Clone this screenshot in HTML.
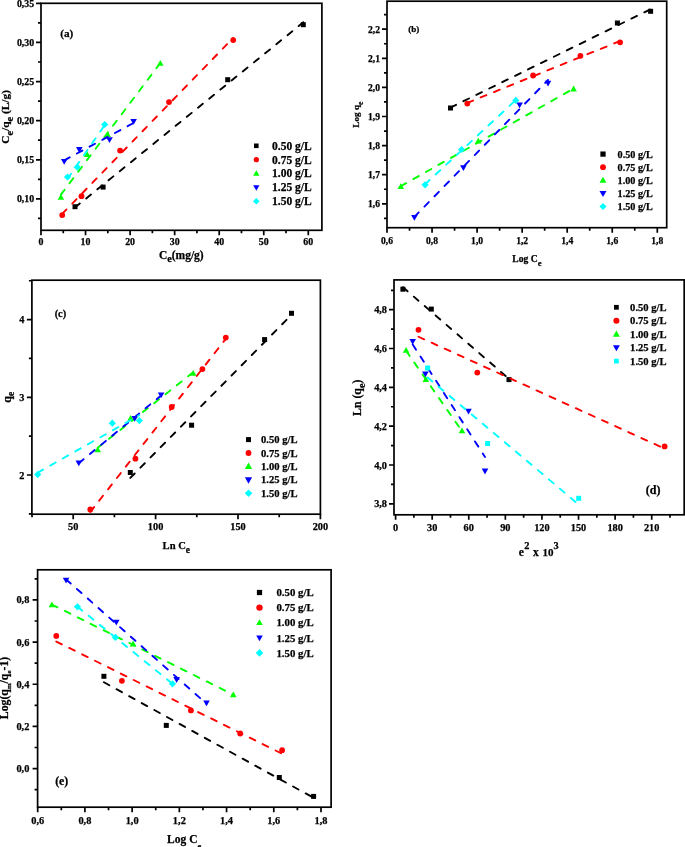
<!DOCTYPE html>
<html><head><meta charset="utf-8"><title>Isotherm plots</title>
<style>
html,body{margin:0;padding:0;background:#fff;}
svg{display:block;will-change:transform;}
text{font-family:"Liberation Serif",serif;font-weight:bold;fill:#000;stroke:#000;stroke-width:0.25px;}
</style></head>
<body>
<svg width="685" height="847" viewBox="0 0 685 847">
<rect width="685" height="847" fill="#fff"/>
<rect x="41.00" y="3.30" width="280.90" height="227.00" fill="none" stroke="#000" stroke-width="1.70"/>
<path d="M41.00 230.30V235.30M85.55 230.30V235.30M130.10 230.30V235.30M174.65 230.30V235.30M219.20 230.30V235.30M263.75 230.30V235.30M308.30 230.30V235.30M63.27 230.30V233.30M107.83 230.30V233.30M152.38 230.30V233.30M196.93 230.30V233.30M241.47 230.30V233.30M286.02 230.30V233.30M41.00 198.90H36.00M41.00 159.78H36.00M41.00 120.66H36.00M41.00 81.54H36.00M41.00 42.42H36.00M41.00 3.30H36.00M41.00 218.46H38.00M41.00 179.34H38.00M41.00 140.22H38.00M41.00 101.10H38.00M41.00 61.98H38.00M41.00 22.86H38.00" stroke="#000" stroke-width="1.70" fill="none"/>
<text x="41.00" y="245.00" font-size="9.90" text-anchor="middle">0</text>
<text x="85.55" y="245.00" font-size="9.90" text-anchor="middle">10</text>
<text x="130.10" y="245.00" font-size="9.90" text-anchor="middle">20</text>
<text x="174.65" y="245.00" font-size="9.90" text-anchor="middle">30</text>
<text x="219.20" y="245.00" font-size="9.90" text-anchor="middle">40</text>
<text x="263.75" y="245.00" font-size="9.90" text-anchor="middle">50</text>
<text x="308.30" y="245.00" font-size="9.90" text-anchor="middle">60</text>
<text x="34.20" y="202.32" font-size="9.90" text-anchor="end">0,10</text>
<text x="34.20" y="163.20" font-size="9.90" text-anchor="end">0,15</text>
<text x="34.20" y="124.08" font-size="9.90" text-anchor="end">0,20</text>
<text x="34.20" y="84.96" font-size="9.90" text-anchor="end">0,25</text>
<text x="34.20" y="45.84" font-size="9.90" text-anchor="end">0,30</text>
<text x="34.20" y="6.72" font-size="9.90" text-anchor="end">0,35</text>
<line x1="75.00" y1="207.49" x2="303.30" y2="22.35" stroke="#000000" stroke-width="1.90" stroke-dasharray="6.2 8.2" stroke-linecap="round"/>
<rect x="72.50" y="204.20" width="5.00" height="5.00" fill="#000000"/>
<rect x="100.60" y="184.60" width="5.00" height="5.00" fill="#000000"/>
<rect x="225.20" y="77.20" width="5.00" height="5.00" fill="#000000"/>
<rect x="300.80" y="22.20" width="5.00" height="5.00" fill="#000000"/>
<line x1="62.20" y1="213.88" x2="233.20" y2="37.92" stroke="#ff0000" stroke-width="1.90" stroke-dasharray="6.2 8.2" stroke-linecap="round"/>
<circle cx="62.20" cy="215.10" r="2.90" fill="#ff0000"/>
<circle cx="81.50" cy="196.20" r="2.90" fill="#ff0000"/>
<circle cx="120.10" cy="150.60" r="2.90" fill="#ff0000"/>
<circle cx="169.00" cy="102.10" r="2.90" fill="#ff0000"/>
<circle cx="233.20" cy="40.10" r="2.90" fill="#ff0000"/>
<line x1="60.90" y1="194.66" x2="160.30" y2="63.06" stroke="#00ff00" stroke-width="1.90" stroke-dasharray="6.2 8.2" stroke-linecap="round"/>
<path d="M60.90 193.92L64.20 199.72L57.60 199.72Z" fill="#00ff00"/>
<path d="M87.20 151.22L90.50 157.02L83.90 157.02Z" fill="#00ff00"/>
<path d="M107.60 131.32L110.90 137.12L104.30 137.12Z" fill="#00ff00"/>
<path d="M160.30 60.02L163.60 65.82L157.00 65.82Z" fill="#00ff00"/>
<line x1="64.20" y1="160.30" x2="133.60" y2="122.98" stroke="#0000ff" stroke-width="1.90" stroke-dasharray="6.2 8.2" stroke-linecap="round"/>
<path d="M64.20 164.68L67.50 158.88L60.90 158.88Z" fill="#0000ff"/>
<path d="M79.30 152.88L82.60 147.08L76.00 147.08Z" fill="#0000ff"/>
<path d="M109.50 143.08L112.80 137.28L106.20 137.28Z" fill="#0000ff"/>
<path d="M133.60 124.68L136.90 118.88L130.30 118.88Z" fill="#0000ff"/>
<line x1="67.50" y1="178.84" x2="104.70" y2="125.16" stroke="#00ffff" stroke-width="1.90" stroke-dasharray="6.2 8.2" stroke-linecap="round"/>
<path d="M67.50 173.40L71.10 177.00L67.50 180.60L63.90 177.00Z" fill="#00ffff"/>
<path d="M77.30 163.60L80.90 167.20L77.30 170.80L73.70 167.20Z" fill="#00ffff"/>
<path d="M104.70 120.90L108.30 124.50L104.70 128.10L101.10 124.50Z" fill="#00ffff"/>
<rect x="254.00" y="143.50" width="4.60" height="4.60" fill="#000000"/>
<text x="272.00" y="149.77" font-size="11.50" text-anchor="start">0.50 g/L</text>
<circle cx="256.30" cy="159.65" r="2.67" fill="#ff0000"/>
<text x="272.00" y="163.62" font-size="11.50" text-anchor="start">0.75 g/L</text>
<path d="M256.30 170.19L259.44 175.70L253.17 175.70Z" fill="#00ff00"/>
<text x="272.00" y="177.47" font-size="11.50" text-anchor="start">1.00 g/L</text>
<path d="M256.30 190.66L259.44 185.15L253.17 185.15Z" fill="#0000ff"/>
<text x="272.00" y="191.32" font-size="11.50" text-anchor="start">1.25 g/L</text>
<path d="M256.30 197.89L259.61 201.20L256.30 204.51L252.99 201.20Z" fill="#00ffff"/>
<text x="272.00" y="205.17" font-size="11.50" text-anchor="start">1.50 g/L</text>
<text x="66.70" y="36.50" font-size="11.20" text-anchor="middle">(a)</text>
<text x="158.90" y="258.50" font-size="11.50" text-anchor="start">C<tspan font-size="10.2" dy="3.5">e</tspan><tspan dy="-3.5">(mg/g)</tspan></text>
<text transform="translate(8.9 116.9) rotate(-90)" font-size="11.4" text-anchor="middle">C<tspan font-size="10.4" dy="3.7">e</tspan><tspan dy="-3.7">/q</tspan><tspan font-size="10.4" dy="3.7">e</tspan><tspan dy="-3.7"> (L/g)</tspan></text>
<rect x="387.00" y="1.20" width="279.70" height="226.50" fill="none" stroke="#000" stroke-width="1.70"/>
<path d="M387.00 227.70V232.70M432.05 227.70V232.70M477.10 227.70V232.70M522.15 227.70V232.70M567.20 227.70V232.70M612.25 227.70V232.70M657.30 227.70V232.70M409.52 227.70V230.70M454.57 227.70V230.70M499.62 227.70V230.70M544.67 227.70V230.70M589.72 227.70V230.70M634.77 227.70V230.70M387.00 203.80H382.00M387.00 174.70H382.00M387.00 145.60H382.00M387.00 116.50H382.00M387.00 87.40H382.00M387.00 58.30H382.00M387.00 29.20H382.00M387.00 218.35H384.00M387.00 189.25H384.00M387.00 160.15H384.00M387.00 131.05H384.00M387.00 101.95H384.00M387.00 72.85H384.00M387.00 43.75H384.00M387.00 14.65H384.00" stroke="#000" stroke-width="1.70" fill="none"/>
<text x="387.00" y="243.80" font-size="9.60" text-anchor="middle">0,6</text>
<text x="432.05" y="243.80" font-size="9.60" text-anchor="middle">0,8</text>
<text x="477.10" y="243.80" font-size="9.60" text-anchor="middle">1,0</text>
<text x="522.15" y="243.80" font-size="9.60" text-anchor="middle">1,2</text>
<text x="567.20" y="243.80" font-size="9.60" text-anchor="middle">1,4</text>
<text x="612.25" y="243.80" font-size="9.60" text-anchor="middle">1,6</text>
<text x="657.30" y="243.80" font-size="9.60" text-anchor="middle">1,8</text>
<text x="380.00" y="207.11" font-size="9.60" text-anchor="end">1,6</text>
<text x="380.00" y="178.01" font-size="9.60" text-anchor="end">1,7</text>
<text x="380.00" y="148.91" font-size="9.60" text-anchor="end">1,8</text>
<text x="380.00" y="119.81" font-size="9.60" text-anchor="end">1,9</text>
<text x="380.00" y="90.71" font-size="9.60" text-anchor="end">2,0</text>
<text x="380.00" y="61.61" font-size="9.60" text-anchor="end">2,1</text>
<text x="380.00" y="32.51" font-size="9.60" text-anchor="end">2,2</text>
<line x1="450.50" y1="107.58" x2="650.60" y2="9.20" stroke="#000000" stroke-width="1.90" stroke-dasharray="6.2 8.2" stroke-linecap="round"/>
<rect x="448.00" y="105.50" width="5.00" height="5.00" fill="#000000"/>
<rect x="614.90" y="20.50" width="5.00" height="5.00" fill="#000000"/>
<rect x="648.10" y="8.80" width="5.00" height="5.00" fill="#000000"/>
<line x1="467.30" y1="102.85" x2="620.10" y2="41.03" stroke="#ff0000" stroke-width="1.90" stroke-dasharray="6.2 8.2" stroke-linecap="round"/>
<circle cx="467.30" cy="103.60" r="2.90" fill="#ff0000"/>
<circle cx="533.10" cy="75.50" r="2.90" fill="#ff0000"/>
<circle cx="580.40" cy="55.80" r="2.90" fill="#ff0000"/>
<circle cx="620.10" cy="42.30" r="2.90" fill="#ff0000"/>
<line x1="400.80" y1="186.18" x2="573.60" y2="88.60" stroke="#00ff00" stroke-width="1.90" stroke-dasharray="6.2 8.2" stroke-linecap="round"/>
<path d="M400.80 183.32L404.10 189.12L397.50 189.12Z" fill="#00ff00"/>
<path d="M478.30 137.82L481.60 143.62L475.00 143.62Z" fill="#00ff00"/>
<path d="M573.60 85.62L576.90 91.42L570.30 91.42Z" fill="#00ff00"/>
<line x1="414.40" y1="216.86" x2="548.00" y2="80.03" stroke="#0000ff" stroke-width="1.90" stroke-dasharray="6.2 8.2" stroke-linecap="round"/>
<path d="M414.40 220.68L417.70 214.88L411.10 214.88Z" fill="#0000ff"/>
<path d="M463.40 171.08L466.70 165.28L460.10 165.28Z" fill="#0000ff"/>
<path d="M519.60 108.28L522.90 102.48L516.30 102.48Z" fill="#0000ff"/>
<path d="M548.00 86.58L551.30 80.78L544.70 80.78Z" fill="#0000ff"/>
<line x1="425.10" y1="184.27" x2="515.80" y2="100.05" stroke="#00ffff" stroke-width="1.90" stroke-dasharray="6.2 8.2" stroke-linecap="round"/>
<path d="M425.10 181.20L428.70 184.80L425.10 188.40L421.50 184.80Z" fill="#00ffff"/>
<path d="M461.60 145.90L465.20 149.50L461.60 153.10L458.00 149.50Z" fill="#00ffff"/>
<path d="M515.80 96.80L519.40 100.40L515.80 104.00L512.20 100.40Z" fill="#00ffff"/>
<rect x="600.38" y="151.47" width="5.25" height="5.25" fill="#000000"/>
<text x="617.60" y="157.62" font-size="10.20" text-anchor="start">0.50 g/L</text>
<circle cx="603.00" cy="167.20" r="2.90" fill="#ff0000"/>
<text x="617.60" y="170.72" font-size="10.20" text-anchor="start">0.75 g/L</text>
<path d="M603.00 176.65L606.47 182.74L599.53 182.74Z" fill="#00ff00"/>
<text x="617.60" y="183.82" font-size="10.20" text-anchor="start">1.00 g/L</text>
<path d="M603.00 197.05L606.47 190.96L599.53 190.96Z" fill="#0000ff"/>
<text x="617.60" y="196.92" font-size="10.20" text-anchor="start">1.25 g/L</text>
<path d="M603.00 202.90L606.60 206.50L603.00 210.10L599.40 206.50Z" fill="#00ffff"/>
<text x="617.60" y="210.02" font-size="10.20" text-anchor="start">1.50 g/L</text>
<text x="413.70" y="32.40" font-size="9.00" text-anchor="middle">(b)</text>
<text x="526.90" y="262.20" font-size="9.60" text-anchor="middle">Log C<tspan font-size="8.6" dy="3.4">e</tspan></text>
<text transform="translate(359.4 114.6) rotate(-90)" font-size="9.2" text-anchor="middle">Log q<tspan font-size="7.6" dy="3.2">e</tspan></text>
<rect x="31.90" y="280.20" width="288.50" height="234.00" fill="none" stroke="#000" stroke-width="1.70"/>
<path d="M73.20 514.20V519.20M155.60 514.20V519.20M238.00 514.20V519.20M320.40 514.20V519.20M32.00 514.20V517.20M114.40 514.20V517.20M196.80 514.20V517.20M279.20 514.20V517.20M31.90 475.00H26.90M31.90 397.30H26.90M31.90 319.60H26.90M31.90 513.85H28.90M31.90 436.15H28.90M31.90 358.45H28.90M31.90 280.75H28.90" stroke="#000" stroke-width="1.70" fill="none"/>
<text x="73.20" y="530.00" font-size="10.30" text-anchor="middle">50</text>
<text x="155.60" y="530.00" font-size="10.30" text-anchor="middle">100</text>
<text x="238.00" y="530.00" font-size="10.30" text-anchor="middle">150</text>
<text x="320.40" y="530.00" font-size="10.30" text-anchor="middle">200</text>
<text x="24.40" y="478.55" font-size="10.30" text-anchor="end">2</text>
<text x="24.40" y="400.85" font-size="10.30" text-anchor="end">3</text>
<text x="24.40" y="323.15" font-size="10.30" text-anchor="end">4</text>
<line x1="130.30" y1="477.88" x2="291.50" y2="314.82" stroke="#000000" stroke-width="1.90" stroke-dasharray="6.2 8.2" stroke-linecap="round"/>
<rect x="127.80" y="470.00" width="5.00" height="5.00" fill="#000000"/>
<rect x="189.10" y="422.70" width="5.00" height="5.00" fill="#000000"/>
<rect x="262.10" y="337.10" width="5.00" height="5.00" fill="#000000"/>
<rect x="289.00" y="310.80" width="5.00" height="5.00" fill="#000000"/>
<line x1="90.30" y1="511.99" x2="225.80" y2="338.80" stroke="#ff0000" stroke-width="1.90" stroke-dasharray="6.2 8.2" stroke-linecap="round"/>
<circle cx="90.30" cy="509.40" r="2.90" fill="#ff0000"/>
<circle cx="135.40" cy="458.70" r="2.90" fill="#ff0000"/>
<circle cx="171.70" cy="407.00" r="2.90" fill="#ff0000"/>
<circle cx="202.40" cy="369.10" r="2.90" fill="#ff0000"/>
<circle cx="225.80" cy="337.60" r="2.90" fill="#ff0000"/>
<line x1="97.70" y1="447.78" x2="193.20" y2="372.33" stroke="#00ff00" stroke-width="1.90" stroke-dasharray="6.2 8.2" stroke-linecap="round"/>
<path d="M97.70 446.52L101.00 452.32L94.40 452.32Z" fill="#00ff00"/>
<path d="M130.60 414.92L133.90 420.72L127.30 420.72Z" fill="#00ff00"/>
<path d="M193.20 370.02L196.50 375.82L189.90 375.82Z" fill="#00ff00"/>
<line x1="78.80" y1="463.15" x2="161.10" y2="395.53" stroke="#0000ff" stroke-width="1.90" stroke-dasharray="6.2 8.2" stroke-linecap="round"/>
<path d="M78.80 466.28L82.10 460.48L75.50 460.48Z" fill="#0000ff"/>
<path d="M134.70 421.78L138.00 415.98L131.40 415.98Z" fill="#0000ff"/>
<path d="M161.10 398.28L164.40 392.48L157.80 392.48Z" fill="#0000ff"/>
<line x1="37.70" y1="472.65" x2="139.40" y2="415.23" stroke="#00ffff" stroke-width="1.90" stroke-dasharray="6.2 8.2" stroke-linecap="round"/>
<path d="M37.70 471.00L41.30 474.60L37.70 478.20L34.10 474.60Z" fill="#00ffff"/>
<path d="M112.30 419.60L115.90 423.20L112.30 426.80L108.70 423.20Z" fill="#00ffff"/>
<path d="M139.40 417.00L143.00 420.60L139.40 424.20L135.80 420.60Z" fill="#00ffff"/>
<rect x="246.00" y="437.10" width="5.00" height="5.00" fill="#000000"/>
<text x="261.00" y="443.26" font-size="10.60" text-anchor="start">0.50 g/L</text>
<circle cx="248.50" cy="453.00" r="2.90" fill="#ff0000"/>
<text x="261.00" y="456.66" font-size="10.60" text-anchor="start">0.75 g/L</text>
<path d="M248.50 462.57L252.13 468.95L244.87 468.95Z" fill="#00ff00"/>
<text x="261.00" y="470.06" font-size="10.60" text-anchor="start">1.00 g/L</text>
<path d="M248.50 483.63L252.13 477.25L244.87 477.25Z" fill="#0000ff"/>
<text x="261.00" y="483.46" font-size="10.60" text-anchor="start">1.25 g/L</text>
<path d="M248.50 489.42L252.28 493.20L248.50 496.98L244.72 493.20Z" fill="#00ffff"/>
<text x="261.00" y="496.86" font-size="10.60" text-anchor="start">1.50 g/L</text>
<text x="60.40" y="316.90" font-size="10.40" text-anchor="middle">(c)</text>
<text x="176.30" y="549.20" font-size="10.60" text-anchor="middle">Ln C<tspan font-size="9.4" dy="3.6">e</tspan></text>
<text transform="translate(10.6 397.2) rotate(-90)" font-size="12" text-anchor="middle">q<tspan font-size="9.5" dy="3.6">e</tspan></text>
<rect x="394.00" y="279.90" width="290.20" height="234.90" fill="none" stroke="#000" stroke-width="1.70"/>
<path d="M395.60 514.80V519.80M432.19 514.80V519.80M468.77 514.80V519.80M505.36 514.80V519.80M541.94 514.80V519.80M578.53 514.80V519.80M615.11 514.80V519.80M651.70 514.80V519.80M413.89 514.80V517.80M450.48 514.80V517.80M487.06 514.80V517.80M523.65 514.80V517.80M560.24 514.80V517.80M596.82 514.80V517.80M633.41 514.80V517.80M669.99 514.80V517.80M394.00 503.80H389.00M394.00 464.98H389.00M394.00 426.16H389.00M394.00 387.34H389.00M394.00 348.52H389.00M394.00 309.70H389.00M394.00 484.39H391.00M394.00 445.57H391.00M394.00 406.75H391.00M394.00 367.93H391.00M394.00 329.11H391.00M394.00 290.29H391.00" stroke="#000" stroke-width="1.70" fill="none"/>
<text x="395.60" y="530.90" font-size="10.30" text-anchor="middle">0</text>
<text x="432.19" y="530.90" font-size="10.30" text-anchor="middle">30</text>
<text x="468.77" y="530.90" font-size="10.30" text-anchor="middle">60</text>
<text x="505.36" y="530.90" font-size="10.30" text-anchor="middle">90</text>
<text x="541.94" y="530.90" font-size="10.30" text-anchor="middle">120</text>
<text x="578.53" y="530.90" font-size="10.30" text-anchor="middle">150</text>
<text x="615.11" y="530.90" font-size="10.30" text-anchor="middle">180</text>
<text x="651.70" y="530.90" font-size="10.30" text-anchor="middle">210</text>
<text x="387.00" y="507.35" font-size="10.30" text-anchor="end">3,8</text>
<text x="387.00" y="468.53" font-size="10.30" text-anchor="end">4,0</text>
<text x="387.00" y="429.71" font-size="10.30" text-anchor="end">4,2</text>
<text x="387.00" y="390.89" font-size="10.30" text-anchor="end">4,4</text>
<text x="387.00" y="352.07" font-size="10.30" text-anchor="end">4,6</text>
<text x="387.00" y="313.25" font-size="10.30" text-anchor="end">4,8</text>
<line x1="402.90" y1="287.24" x2="509.00" y2="378.88" stroke="#000000" stroke-width="1.90" stroke-dasharray="6.2 8.2" stroke-linecap="round"/>
<rect x="400.40" y="286.70" width="5.00" height="5.00" fill="#000000"/>
<rect x="428.80" y="306.60" width="5.00" height="5.00" fill="#000000"/>
<rect x="506.50" y="377.10" width="5.00" height="5.00" fill="#000000"/>
<line x1="418.50" y1="336.75" x2="664.60" y2="448.58" stroke="#ff0000" stroke-width="1.90" stroke-dasharray="6.2 8.2" stroke-linecap="round"/>
<circle cx="418.50" cy="329.80" r="2.90" fill="#ff0000"/>
<circle cx="477.30" cy="372.60" r="2.90" fill="#ff0000"/>
<circle cx="664.60" cy="446.40" r="2.90" fill="#ff0000"/>
<line x1="406.10" y1="350.81" x2="462.00" y2="431.17" stroke="#00ff00" stroke-width="1.90" stroke-dasharray="6.2 8.2" stroke-linecap="round"/>
<path d="M406.10 347.02L409.40 352.82L402.80 352.82Z" fill="#00ff00"/>
<path d="M425.80 376.12L429.10 381.92L422.50 381.92Z" fill="#00ff00"/>
<path d="M462.00 427.52L465.30 433.32L458.70 433.32Z" fill="#00ff00"/>
<line x1="412.70" y1="344.49" x2="485.00" y2="456.97" stroke="#0000ff" stroke-width="1.90" stroke-dasharray="6.2 8.2" stroke-linecap="round"/>
<path d="M412.70 344.78L416.00 338.98L409.40 338.98Z" fill="#0000ff"/>
<path d="M425.40 377.18L428.70 371.38L422.10 371.38Z" fill="#0000ff"/>
<path d="M468.50 414.58L471.80 408.78L465.20 408.78Z" fill="#0000ff"/>
<path d="M485.00 474.38L488.30 468.58L481.70 468.58Z" fill="#0000ff"/>
<line x1="427.60" y1="377.42" x2="578.70" y2="504.50" stroke="#00ffff" stroke-width="1.90" stroke-dasharray="6.2 8.2" stroke-linecap="round"/>
<rect x="425.10" y="365.50" width="5.00" height="5.00" fill="#00ffff"/>
<rect x="485.10" y="441.00" width="5.00" height="5.00" fill="#00ffff"/>
<rect x="576.20" y="495.80" width="5.00" height="5.00" fill="#00ffff"/>
<rect x="614.02" y="304.93" width="4.75" height="4.75" fill="#000000"/>
<text x="630.10" y="310.96" font-size="10.60" text-anchor="start">0.50 g/L</text>
<circle cx="616.40" cy="320.75" r="3.04" fill="#ff0000"/>
<text x="630.10" y="324.41" font-size="10.60" text-anchor="start">0.75 g/L</text>
<path d="M616.40 330.55L619.87 336.64L612.93 336.64Z" fill="#00ff00"/>
<text x="630.10" y="337.86" font-size="10.60" text-anchor="start">1.00 g/L</text>
<path d="M616.40 351.30L619.87 345.21L612.93 345.21Z" fill="#0000ff"/>
<text x="630.10" y="351.31" font-size="10.60" text-anchor="start">1.25 g/L</text>
<rect x="614.02" y="358.73" width="4.75" height="4.75" fill="#00ffff"/>
<text x="630.10" y="364.76" font-size="10.60" text-anchor="start">1.50 g/L</text>
<text x="653.10" y="493.80" font-size="12.00" text-anchor="middle">(d)</text>
<text x="518.70" y="555.60" font-size="11.50" text-anchor="start">e</text><text x="524.30" y="549.10" font-size="10.40" text-anchor="start">2</text><text x="533.00" y="555.60" font-size="11.50" text-anchor="start">x</text><text x="542.50" y="555.60" font-size="11.00" text-anchor="start">10</text><text x="553.40" y="549.10" font-size="10.40" text-anchor="start">3</text>
<text transform="translate(361.0 397.8) rotate(-90)" font-size="11.8" text-anchor="middle">Ln (q<tspan font-size="10.2" dy="4.2">e</tspan><tspan dy="-4.2">)</tspan></text>
<rect x="37.60" y="569.80" width="293.50" height="237.40" fill="none" stroke="#000" stroke-width="1.70"/>
<path d="M37.70 807.20V812.20M84.92 807.20V812.20M132.13 807.20V812.20M179.35 807.20V812.20M226.57 807.20V812.20M273.78 807.20V812.20M321.00 807.20V812.20M61.31 807.20V810.20M108.53 807.20V810.20M155.74 807.20V810.20M202.96 807.20V810.20M250.18 807.20V810.20M297.39 807.20V810.20M37.60 768.60H32.60M37.60 726.43H32.60M37.60 684.25H32.60M37.60 642.08H32.60M37.60 599.90H32.60M37.60 789.69H34.60M37.60 747.51H34.60M37.60 705.34H34.60M37.60 663.16H34.60M37.60 620.99H34.60M37.60 578.81H34.60" stroke="#000" stroke-width="1.70" fill="none"/>
<text x="37.70" y="824.00" font-size="10.40" text-anchor="middle">0,6</text>
<text x="84.92" y="824.00" font-size="10.40" text-anchor="middle">0,8</text>
<text x="132.13" y="824.00" font-size="10.40" text-anchor="middle">1,0</text>
<text x="179.35" y="824.00" font-size="10.40" text-anchor="middle">1,2</text>
<text x="226.57" y="824.00" font-size="10.40" text-anchor="middle">1,4</text>
<text x="273.78" y="824.00" font-size="10.40" text-anchor="middle">1,6</text>
<text x="321.00" y="824.00" font-size="10.40" text-anchor="middle">1,8</text>
<text x="29.40" y="772.19" font-size="10.40" text-anchor="end">0,0</text>
<text x="29.40" y="730.01" font-size="10.40" text-anchor="end">0,2</text>
<text x="29.40" y="687.84" font-size="10.40" text-anchor="end">0,4</text>
<text x="29.40" y="645.66" font-size="10.40" text-anchor="end">0,6</text>
<text x="29.40" y="603.49" font-size="10.40" text-anchor="end">0,8</text>
<line x1="103.90" y1="682.23" x2="313.60" y2="797.82" stroke="#000000" stroke-width="1.90" stroke-dasharray="6.2 8.2" stroke-linecap="round"/>
<rect x="101.40" y="673.80" width="5.00" height="5.00" fill="#000000"/>
<rect x="163.80" y="722.90" width="5.00" height="5.00" fill="#000000"/>
<rect x="276.80" y="775.00" width="5.00" height="5.00" fill="#000000"/>
<rect x="311.10" y="793.90" width="5.00" height="5.00" fill="#000000"/>
<line x1="56.30" y1="641.53" x2="282.10" y2="753.77" stroke="#ff0000" stroke-width="1.90" stroke-dasharray="6.2 8.2" stroke-linecap="round"/>
<circle cx="56.30" cy="635.90" r="2.90" fill="#ff0000"/>
<circle cx="121.90" cy="680.80" r="2.90" fill="#ff0000"/>
<circle cx="190.90" cy="710.40" r="2.90" fill="#ff0000"/>
<circle cx="240.20" cy="733.50" r="2.90" fill="#ff0000"/>
<circle cx="282.10" cy="750.20" r="2.90" fill="#ff0000"/>
<line x1="51.90" y1="604.56" x2="233.30" y2="694.65" stroke="#00ff00" stroke-width="1.90" stroke-dasharray="6.2 8.2" stroke-linecap="round"/>
<path d="M51.90 601.52L55.20 607.32L48.60 607.32Z" fill="#00ff00"/>
<path d="M133.10 640.62L136.40 646.42L129.80 646.42Z" fill="#00ff00"/>
<path d="M233.30 691.52L236.60 697.32L230.00 697.32Z" fill="#00ff00"/>
<line x1="66.10" y1="579.42" x2="206.50" y2="703.75" stroke="#0000ff" stroke-width="1.90" stroke-dasharray="6.2 8.2" stroke-linecap="round"/>
<path d="M66.10 583.58L69.40 577.78L62.80 577.78Z" fill="#0000ff"/>
<path d="M116.30 625.58L119.60 619.78L113.00 619.78Z" fill="#0000ff"/>
<path d="M176.60 682.88L179.90 677.08L173.30 677.08Z" fill="#0000ff"/>
<path d="M206.50 706.18L209.80 700.38L203.20 700.38Z" fill="#0000ff"/>
<line x1="77.50" y1="606.75" x2="172.50" y2="683.77" stroke="#00ffff" stroke-width="1.90" stroke-dasharray="6.2 8.2" stroke-linecap="round"/>
<path d="M77.50 603.20L81.10 606.80L77.50 610.40L73.90 606.80Z" fill="#00ffff"/>
<path d="M115.40 633.80L119.00 637.40L115.40 641.00L111.80 637.40Z" fill="#00ffff"/>
<path d="M172.50 680.20L176.10 683.80L172.50 687.40L168.90 683.80Z" fill="#00ffff"/>
<rect x="256.88" y="589.88" width="5.25" height="5.25" fill="#000000"/>
<text x="276.40" y="596.23" font-size="10.80" text-anchor="start">0.50 g/L</text>
<circle cx="259.50" cy="607.60" r="3.19" fill="#ff0000"/>
<text x="276.40" y="611.33" font-size="10.80" text-anchor="start">0.75 g/L</text>
<path d="M259.50 619.22L262.80 625.02L256.20 625.02Z" fill="#00ff00"/>
<text x="276.40" y="626.43" font-size="10.80" text-anchor="start">1.00 g/L</text>
<path d="M259.50 641.28L262.80 635.48L256.20 635.48Z" fill="#0000ff"/>
<text x="276.40" y="641.53" font-size="10.80" text-anchor="start">1.25 g/L</text>
<path d="M259.50 649.12L263.28 652.90L259.50 656.68L255.72 652.90Z" fill="#00ffff"/>
<text x="276.40" y="656.63" font-size="10.80" text-anchor="start">1.50 g/L</text>
<text x="61.70" y="785.30" font-size="11.80" text-anchor="middle">(e)</text>
<text x="167.10" y="842.70" font-size="11.50" text-anchor="start">Log C<tspan font-size="8.5" dy="6.2">e</tspan></text>
<text transform="translate(7.9 688.0) rotate(-90)" font-size="11.8" text-anchor="middle">Log(q<tspan font-size="6.8" dy="3">m</tspan><tspan dy="-3">/q</tspan><tspan font-size="6.8" dy="3">e</tspan><tspan dy="-3">-1)</tspan></text>
</svg>
</body></html>
